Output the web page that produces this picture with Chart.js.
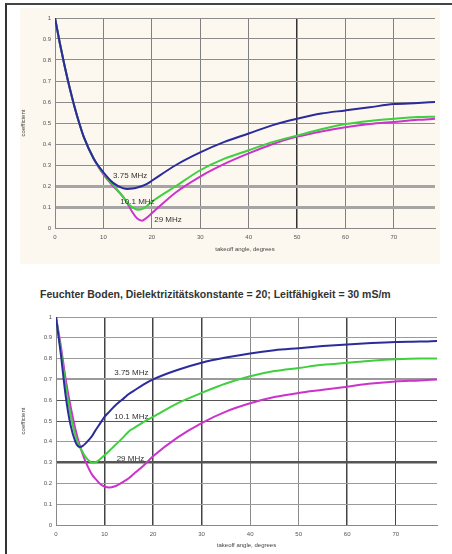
<!DOCTYPE html>
<html>
<head>
<meta charset="utf-8">
<script src="https://cdn.jsdelivr.net/npm/chart.js@4"></script>
<style>
  html, body { margin: 0; padding: 0; background: #fff; }
  body { width: 452px; height: 554px; position: relative; overflow: hidden; font-family: "Liberation Sans", Arial, sans-serif; }
  #frame { position: absolute; left: 5px; top: 3px; width: 460px; height: 560px; border-left: 2px solid #333; border-top: 2px solid #444; }
  #bg1 { position: absolute; left: 20px; top: 8px; width: 420px; height: 256px; background: #fdf8ef; }
  #c1 { position: absolute; left: 20px; top: 8px; }
  #c2 { position: absolute; left: 20px; top: 298px; }
  #title2 { position: absolute; left: 40px; top: 288px; font-weight: bold; font-size: 10.5px; color: #333; white-space: nowrap; }
</style>
</head>
<body>
<div id="frame"></div>
<div id="bg1"></div>
<canvas id="c1" width="420" height="256"></canvas>
<div id="title2">Feuchter Boden, Dielektrizitätskonstante = 20; Leitfähigkeit = 30 mS/m</div>
<canvas id="c2" width="426" height="256"></canvas>
<script>
// tick labels
var xTicks = [0, 10, 20, 30, 40, 50, 60, 70];
var yTicks = [0, 0.1, 0.2, 0.3, 0.4, 0.5, 0.6, 0.7, 0.8, 0.9, 1];
var seriesNames = ["3.75 MHz", "10.1 MHz", "29 MHz"];

// top chart
var topAngles = [0, 1, 2, 3, 4, 5, 6, 8, 10, 12, 14, 15, 16, 17, 18, 19, 20, 25, 30, 35, 40, 45, 50, 55, 60, 65, 70, 75, 78.5];
var topBlue  = [1, 0.88, 0.77, 0.67, 0.58, 0.50, 0.43, 0.33, 0.265, 0.215, 0.19, 0.186, 0.188, 0.193, 0.20, 0.21, 0.225, 0.30, 0.36, 0.41, 0.45, 0.49, 0.52, 0.545, 0.56, 0.575, 0.59, 0.595, 0.60];
var topGreen = [1, 0.88, 0.77, 0.67, 0.58, 0.50, 0.43, 0.33, 0.26, 0.205, 0.15, 0.12, 0.098, 0.087, 0.09, 0.105, 0.125, 0.20, 0.275, 0.33, 0.37, 0.41, 0.44, 0.47, 0.495, 0.51, 0.52, 0.528, 0.53];
var topPink  = [1, 0.88, 0.77, 0.67, 0.58, 0.50, 0.43, 0.33, 0.255, 0.20, 0.15, 0.115, 0.075, 0.045, 0.035, 0.05, 0.07, 0.17, 0.245, 0.305, 0.355, 0.40, 0.435, 0.46, 0.48, 0.495, 0.505, 0.515, 0.52];
// label anchors (angle, coefficient)
var topLabelX = [12, 13.5, 20.5];
var topLabelY = [0.25, 0.125, 0.04];

// bottom chart
var botAngles = [0, 1, 2, 3, 4, 4.5, 5, 5.5, 6, 7, 7.5, 8, 9, 10, 11, 12, 14, 15, 16, 18, 20, 25, 30, 35, 40, 45, 50, 55, 60, 65, 70, 75, 78.5];
var botBlue  = [1, 0.82, 0.62, 0.48, 0.40, 0.38, 0.375, 0.38, 0.39, 0.415, 0.43, 0.45, 0.485, 0.52, 0.545, 0.57, 0.61, 0.63, 0.645, 0.675, 0.70, 0.745, 0.78, 0.805, 0.825, 0.84, 0.85, 0.86, 0.868, 0.875, 0.88, 0.882, 0.885];
var botGreen = [1, 0.84, 0.67, 0.53, 0.43, 0.395, 0.37, 0.35, 0.33, 0.305, 0.30, 0.30, 0.315, 0.335, 0.357, 0.38, 0.425, 0.45, 0.465, 0.495, 0.52, 0.585, 0.635, 0.68, 0.715, 0.74, 0.755, 0.77, 0.78, 0.79, 0.797, 0.80, 0.80];
var botPink  = [1, 0.86, 0.70, 0.57, 0.46, 0.415, 0.375, 0.34, 0.31, 0.26, 0.24, 0.225, 0.20, 0.185, 0.18, 0.185, 0.21, 0.225, 0.245, 0.285, 0.33, 0.42, 0.49, 0.545, 0.585, 0.615, 0.635, 0.65, 0.665, 0.68, 0.69, 0.695, 0.70];
var botLabelX = [12, 12, 12.5];
var botLabelY = [0.73, 0.52, 0.32];

var colors = ["#2b2b9c", "#3fcf3f", "#cc33cc"];

function points(xs, ys) {
    let out = [];
    for(let i=0; i<xs.length; i++)
        out.push({x: xs[i], y: ys[i]});
    return out;
}

function makeDatasets(xs, series) {
    let sets = [];
    for(let i=0; i<series.length; i++) {
        sets.push({
            label: seriesNames[i],
            data: points(xs, series[i]),
            borderColor: colors[i],
            borderWidth: 2,
            pointRadius: 0,
            fill: false,
            cubicInterpolationMode: 'monotone'
        });
    }
    return sets;
}

// writes the MHz labels next to the curves
function curveLabels(lx, ly) {
    return {
        id: 'curveLabels',
        afterDatasetsDraw(chart) {
            let ctx = chart.ctx;
            let xs = chart.scales.x, ys = chart.scales.y;
            ctx.save();
            ctx.font = "8px 'Liberation Sans', Arial";
            ctx.fillStyle = "#333";
            ctx.textBaseline = "middle";
            for(let i=0; i<seriesNames.length; i++)
                ctx.fillText(seriesNames[i], xs.getPixelForValue(lx[i]), ys.getPixelForValue(ly[i]));
            ctx.restore();
        }
    };
}

function makeChart(id, xs, series, lx, ly, pad, yWidth, xHeight, gridX, gridY) {
    return new Chart(document.getElementById(id), {
        type: 'line',
        data: { datasets: makeDatasets(xs, series) },
        options: {
            responsive: false,
            animation: false,
            layout: { padding: pad },
            plugins: { legend: { display: false }, tooltip: { enabled: false } },
            scales: {
                x: {
                    type: 'linear', min: 0, max: 78.5,
                    afterBuildTicks: (axis) => { axis.ticks = xTicks.map(v => ({value: v})); },
                    afterFit: (axis) => { axis.height = xHeight; },
                    ticks: { font: { size: 6, family: "'Liberation Sans', Arial" }, color: '#555', padding: 6, maxRotation: 0,
                             callback: (v) => String(v) },
                    grid: { drawTicks: false, color: gridX.color, lineWidth: gridX.width },
                    border: { color: '#888' },
                    title: { display: true, text: 'takeoff angle, degrees', font: { size: 6, family: "'Liberation Sans', Arial" }, color: '#444', padding: { top: 0, bottom: 3 } }
                },
                y: {
                    min: 0, max: 1,
                    afterBuildTicks: (axis) => { axis.ticks = yTicks.map(v => ({value: v})); },
                    afterFit: (axis) => { axis.width = yWidth; },
                    ticks: { font: { size: 6, family: "'Liberation Sans', Arial" }, color: '#555', padding: 4,
                             callback: (v) => String(Math.round(v * 10) / 10) },
                    grid: { drawTicks: false, color: gridY.color, lineWidth: gridY.width },
                    border: { color: '#888' },
                    title: { display: true, text: 'coefficient', font: { size: 6, family: "'Liberation Sans', Arial" }, color: '#444', padding: { top: 0, bottom: 8 } }
                }
            }
        },
        plugins: [curveLabels(lx, ly)]
    });
}

// grid styles, a few lines came out heavier in the original scan
var top1X = {
    color: (c) => c.tick.value == 50 ? '#333' : '#808080',
    width: (c) => c.tick.value == 50 ? 1.5 : 1
};
var top1Y = {
    color: (c) => (c.tick.value == 0.1 || c.tick.value == 0.2) ? '#a5a5a5' : '#8c8c8c',
    width: (c) => (c.tick.value == 0.1 || c.tick.value == 0.2) ? 3 : 1
};
var bot2X = {
    color: (c) => [10, 20, 30, 60, 70].includes(c.tick.value) ? '#444' : '#8a8a8a',
    width: (c) => [10, 20, 30, 60].includes(c.tick.value) ? 1.5 : 1
};
var bot2Y = {
    color: (c) => {
        let v = Math.round(c.tick.value * 10);
        if(v == 3 || v == 5 || v == 6) return '#555';
        return '#9a9a9a';
    },
    width: (c) => {
        let v = Math.round(c.tick.value * 10);
        if(v == 3) return 2.5;
        if(v == 7) return 2;
        return 1;
    }
};

makeChart('c1', topAngles, [topBlue, topGreen, topPink], topLabelX, topLabelY,
    { top: 10, right: 5, left: 0, bottom: 8 }, 35, 28, top1X, top1Y);
makeChart('c2', botAngles, [botBlue, botGreen, botPink], botLabelX, botLabelY,
    { top: 19, right: 9, left: 0, bottom: 2 }, 36, 27, bot2X, bot2Y);
</script>
</body>
</html>
